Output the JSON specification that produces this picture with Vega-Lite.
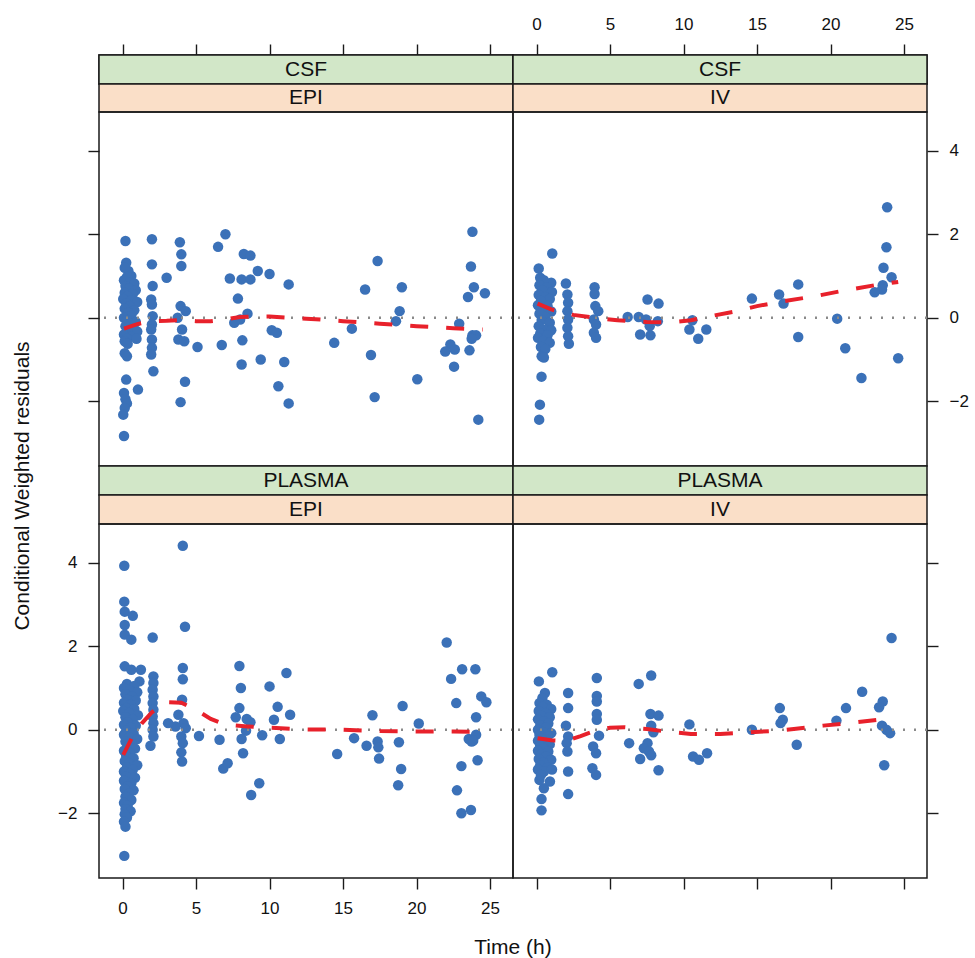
{
  "$schema": "https://vega.github.io/schema/vega-lite/v6.json",
  "padding": {"left": 11, "top": 14, "right": 2, "bottom": 4},
  "background": "white",
  "config": {
    "font": "Liberation Sans",
    "view": {"stroke": "#1a1a1a", "strokeWidth": 1.5},
    "axis": {"grid": false, "domain": false, "tickColor": "#1a1a1a", "tickWidth": 1.4, "tickSize": 11, "labelFontSize": 17, "labelColor": "#111111", "labelPadding": 11, "labelFont": "Liberation Sans"},
    "title": {"font": "Liberation Sans", "fontSize": 21, "fontWeight": "normal", "color": "#111111"}
  },
  "datasets": {
    "tl": [
      {"t":0.2,"r":1.84},{"t":0.25,"r":1.32},{"t":0.4,"r":1.12},{"t":0.15,"r":1.2},{"t":0.6,"r":1.0},{"t":0.3,"r":0.98},{"t":0.1,"r":0.9},{"t":0.5,"r":0.85},{"t":0.8,"r":0.82},{"t":0.2,"r":0.76},{"t":0.45,"r":0.7},{"t":0.9,"r":0.66},{"t":0.15,"r":0.6},{"t":0.7,"r":0.57},{"t":0.35,"r":0.52},{"t":0.05,"r":0.45},{"t":0.6,"r":0.42},{"t":1.0,"r":0.38},{"t":0.25,"r":0.35},{"t":0.5,"r":0.28},{"t":0.15,"r":0.22},{"t":0.8,"r":0.18},{"t":0.4,"r":0.12},{"t":0.6,"r":0.05},{"t":0.1,"r":0.0},{"t":0.3,"r":-0.05},{"t":0.9,"r":-0.1},{"t":0.55,"r":-0.14},{"t":0.2,"r":-0.2},{"t":0.75,"r":-0.25},{"t":0.4,"r":-0.3},{"t":1.0,"r":-0.33},{"t":0.1,"r":-0.4},{"t":0.6,"r":-0.45},{"t":0.3,"r":-0.5},{"t":0.15,"r":-0.56},{"t":0.95,"r":-0.5},{"t":0.35,"r":-0.62},{"t":0.15,"r":-0.85},{"t":0.3,"r":-0.92},{"t":0.25,"r":-1.48},{"t":1.05,"r":-1.72},{"t":0.1,"r":-1.8},{"t":0.2,"r":-1.95},{"t":0.3,"r":-2.05},{"t":0.15,"r":-2.16},{"t":0.05,"r":-2.32},{"t":0.1,"r":-2.83},
      {"t":2.0,"r":1.88},{"t":2.0,"r":1.28},{"t":2.05,"r":0.76},{"t":1.95,"r":0.44},{"t":2.0,"r":0.32},{"t":2.05,"r":0.04},{"t":2.0,"r":-0.16},{"t":1.95,"r":-0.28},{"t":2.0,"r":-0.52},{"t":2.0,"r":-0.72},{"t":1.95,"r":-0.88},{"t":2.1,"r":-1.28},
      {"t":3.9,"r":1.81},{"t":4.0,"r":1.52},{"t":4.0,"r":1.24},{"t":3.0,"r":0.96},{"t":3.95,"r":0.28},{"t":4.3,"r":0.16},{"t":3.75,"r":0.0},{"t":4.05,"r":-0.28},{"t":3.8,"r":-0.52},{"t":4.2,"r":-0.56},{"t":4.25,"r":-1.53},{"t":3.95,"r":-2.02},{"t":5.1,"r":-0.7},
      {"t":7.0,"r":2.0},{"t":6.5,"r":1.7},{"t":8.25,"r":1.53},{"t":8.7,"r":1.49},{"t":7.3,"r":0.94},{"t":8.1,"r":0.92},{"t":8.7,"r":0.92},{"t":9.2,"r":1.12},{"t":10.0,"r":1.05},{"t":11.3,"r":0.8},{"t":7.85,"r":0.46},{"t":8.5,"r":0.1},{"t":8.0,"r":-0.04},{"t":7.6,"r":-0.12},{"t":10.15,"r":-0.3},{"t":10.5,"r":-0.36},{"t":6.75,"r":-0.65},{"t":8.15,"r":-0.54},{"t":9.4,"r":-1.0},{"t":8.1,"r":-1.12},{"t":11.0,"r":-1.06},{"t":10.6,"r":-1.64},{"t":11.3,"r":-2.05},{"t":14.4,"r":-0.6},{"t":15.6,"r":-0.26},{"t":16.5,"r":0.68},{"t":17.35,"r":1.36},{"t":16.9,"r":-0.89},{"t":17.15,"r":-1.9},{"t":19.0,"r":0.73},{"t":18.85,"r":0.16},{"t":18.6,"r":-0.08},{"t":20.05,"r":-1.47},{"t":23.8,"r":2.06},{"t":23.7,"r":1.23},{"t":23.9,"r":0.73},{"t":23.5,"r":0.5},{"t":24.65,"r":0.59},{"t":22.9,"r":-0.14},{"t":23.8,"r":-0.42},{"t":24.05,"r":-0.42},{"t":23.75,"r":-0.5},{"t":22.3,"r":-0.64},{"t":21.95,"r":-0.81},{"t":22.6,"r":-0.76},{"t":23.6,"r":-0.78},{"t":22.55,"r":-1.17},{"t":24.2,"r":-2.44}
    ],
    "tr": [
      {"t":1.07,"r":1.54},{"t":0.15,"r":1.18},{"t":0.25,"r":0.96},{"t":1.0,"r":0.84},{"t":0.5,"r":0.9},{"t":0.2,"r":0.78},{"t":0.7,"r":0.72},{"t":0.4,"r":0.66},{"t":1.05,"r":0.62},{"t":0.15,"r":0.55},{"t":0.6,"r":0.5},{"t":0.9,"r":0.45},{"t":0.3,"r":0.4},{"t":0.1,"r":0.3},{"t":0.75,"r":0.28},{"t":0.45,"r":0.2},{"t":1.0,"r":0.15},{"t":0.2,"r":0.1},{"t":0.6,"r":0.02},{"t":0.35,"r":-0.05},{"t":0.9,"r":-0.12},{"t":0.15,"r":-0.2},{"t":0.5,"r":-0.28},{"t":1.0,"r":-0.3},{"t":0.25,"r":-0.38},{"t":0.75,"r":-0.42},{"t":0.1,"r":-0.48},{"t":0.45,"r":-0.55},{"t":0.9,"r":-0.6},{"t":0.3,"r":-0.7},{"t":0.6,"r":-0.75},{"t":0.35,"r":-0.92},{"t":0.5,"r":-0.95},{"t":0.34,"r":-1.41},{"t":0.23,"r":-2.08},{"t":0.18,"r":-2.44},
      {"t":2.0,"r":0.82},{"t":2.1,"r":0.56},{"t":2.15,"r":0.36},{"t":2.1,"r":0.16},{"t":2.15,"r":-0.04},{"t":2.1,"r":-0.24},{"t":2.15,"r":-0.44},{"t":2.2,"r":-0.62},
      {"t":3.95,"r":0.73},{"t":3.95,"r":0.57},{"t":4.0,"r":0.28},{"t":4.2,"r":0.16},{"t":3.9,"r":-0.04},{"t":4.05,"r":-0.16},{"t":3.9,"r":-0.36},{"t":4.05,"r":-0.48},
      {"t":6.2,"r":0.02},{"t":6.95,"r":0.02},{"t":7.55,"r":0.44},{"t":8.3,"r":0.34},{"t":8.25,"r":-0.08},{"t":7.7,"r":-0.2},{"t":7.05,"r":-0.4},{"t":7.75,"r":-0.42},{"t":7.45,"r":-0.04},{"t":10.6,"r":-0.06},{"t":10.4,"r":-0.28},{"t":11.0,"r":-0.5},{"t":11.55,"r":-0.28},{"t":14.65,"r":0.46},{"t":16.5,"r":0.56},{"t":16.8,"r":0.34},{"t":17.8,"r":0.8},{"t":17.8,"r":-0.46},{"t":20.45,"r":-0.02},{"t":21.0,"r":-0.73},{"t":22.1,"r":-1.44},{"t":23.85,"r":2.65},{"t":23.8,"r":1.69},{"t":23.6,"r":1.2},{"t":24.15,"r":0.97},{"t":23.55,"r":0.78},{"t":23.5,"r":0.68},{"t":23.0,"r":0.61},{"t":24.6,"r":-0.97}
    ],
    "bl": [
      {"t":4.1,"r":4.41},{"t":0.12,"r":3.93},{"t":0.12,"r":3.07},{"t":0.15,"r":2.83},{"t":0.7,"r":2.73},{"t":0.15,"r":2.51},{"t":0.15,"r":2.28},{"t":0.6,"r":2.16},{"t":2.05,"r":2.21},{"t":4.25,"r":2.47},{"t":0.15,"r":1.52},{"t":0.6,"r":1.44},{"t":1.25,"r":1.44},{"t":1.15,"r":1.16},{"t":4.1,"r":1.48},{"t":4.1,"r":1.21},
      {"t":2.1,"r":1.28},{"t":2.1,"r":1.12},{"t":2.05,"r":0.96},{"t":2.1,"r":0.8},{"t":2.05,"r":0.64},{"t":2.1,"r":0.48},{"t":2.05,"r":0.32},{"t":2.1,"r":0.16},{"t":2.05,"r":0.0},{"t":2.1,"r":-0.16},{"t":1.9,"r":-0.38},
      {"t":4.05,"r":0.72},{"t":3.8,"r":0.36},{"t":4.15,"r":0.16},{"t":4.3,"r":0.04},{"t":3.6,"r":0.08},{"t":4.0,"r":-0.16},{"t":4.1,"r":-0.32},{"t":4.0,"r":-0.54},{"t":4.05,"r":-0.76},{"t":3.1,"r":0.16},{"t":5.2,"r":-0.15},
      {"t":0.3,"r":1.1},{"t":0.8,"r":1.05},{"t":0.1,"r":1.0},{"t":0.5,"r":0.95},{"t":1.0,"r":0.9},{"t":0.2,"r":0.85},{"t":0.65,"r":0.8},{"t":0.35,"r":0.72},{"t":0.9,"r":0.7},{"t":0.1,"r":0.65},{"t":0.55,"r":0.6},{"t":0.25,"r":0.52},{"t":0.8,"r":0.5},{"t":0.05,"r":0.45},{"t":0.45,"r":0.4},{"t":1.05,"r":0.35},{"t":0.2,"r":0.3},{"t":0.7,"r":0.25},{"t":0.35,"r":0.18},{"t":0.1,"r":0.12},{"t":0.9,"r":0.1},{"t":0.55,"r":0.05},{"t":0.25,"r":-0.02},{"t":0.75,"r":-0.08},{"t":0.1,"r":-0.12},{"t":0.45,"r":-0.18},{"t":1.0,"r":-0.22},{"t":0.2,"r":-0.28},{"t":0.6,"r":-0.32},{"t":0.35,"r":-0.4},{"t":0.85,"r":-0.45},{"t":0.1,"r":-0.5},{"t":0.5,"r":-0.55},{"t":0.25,"r":-0.62},{"t":0.75,"r":-0.68},{"t":0.15,"r":-0.75},{"t":0.45,"r":-0.8},{"t":1.0,"r":-0.85},{"t":0.3,"r":-0.9},{"t":0.7,"r":-0.95},{"t":0.1,"r":-1.0},{"t":0.5,"r":-1.05},{"t":0.25,"r":-1.12},{"t":0.85,"r":-1.15},{"t":0.1,"r":-1.22},{"t":0.6,"r":-1.28},{"t":0.35,"r":-1.35},{"t":0.15,"r":-1.42},{"t":0.75,"r":-1.45},{"t":0.45,"r":-1.52},{"t":0.2,"r":-1.6},{"t":0.6,"r":-1.68},{"t":0.1,"r":-1.75},{"t":0.35,"r":-1.82},{"t":0.2,"r":-1.9},{"t":0.55,"r":-1.95},{"t":0.15,"r":-2.02},{"t":0.3,"r":-2.1},{"t":0.1,"r":-2.2},{"t":0.2,"r":-2.32},{"t":0.12,"r":-3.02},
      {"t":7.95,"r":1.53},{"t":8.05,"r":1.0},{"t":7.95,"r":0.52},{"t":7.7,"r":0.3},{"t":8.45,"r":0.26},{"t":8.7,"r":0.18},{"t":8.4,"r":-0.02},{"t":8.1,"r":-0.22},{"t":8.2,"r":-0.56},{"t":6.6,"r":-0.24},{"t":6.85,"r":-0.93},{"t":7.15,"r":-0.8},{"t":8.75,"r":-1.56},{"t":9.3,"r":-1.28},{"t":9.5,"r":-0.13},{"t":10.0,"r":1.04},{"t":10.55,"r":0.55},{"t":10.3,"r":0.24},{"t":10.7,"r":-0.22},{"t":11.15,"r":1.36},{"t":11.4,"r":0.36},{"t":14.6,"r":-0.58},{"t":15.75,"r":-0.2},{"t":16.6,"r":-0.38},{"t":17.0,"r":0.35},{"t":17.35,"r":-0.28},{"t":17.4,"r":-0.42},{"t":17.45,"r":-0.69},{"t":18.8,"r":-0.3},{"t":19.05,"r":0.57},{"t":18.95,"r":-0.94},{"t":18.75,"r":-1.33},{"t":20.15,"r":0.15},{"t":22.05,"r":2.09},{"t":22.35,"r":1.22},{"t":23.1,"r":1.45},{"t":24.0,"r":1.45},{"t":22.7,"r":0.64},{"t":24.4,"r":0.8},{"t":24.75,"r":0.66},{"t":24.05,"r":0.3},{"t":23.55,"r":-0.22},{"t":23.75,"r":-0.28},{"t":24.05,"r":-0.12},{"t":23.85,"r":-0.26},{"t":23.05,"r":-0.87},{"t":24.15,"r":-0.73},{"t":22.75,"r":-1.45},{"t":23.05,"r":-2.0},{"t":23.7,"r":-1.92}
    ],
    "br": [
      {"t":1.07,"r":1.38},{"t":0.16,"r":1.16},{"t":0.57,"r":0.88},{"t":0.4,"r":0.76},{"t":0.5,"r":-1.4},{"t":0.34,"r":-1.66},{"t":0.34,"r":-1.93},{"t":0.91,"r":-1.24},{"t":0.2,"r":-1.2},
      {"t":0.2,"r":0.64},{"t":0.7,"r":0.6},{"t":0.4,"r":0.55},{"t":1.0,"r":0.5},{"t":0.15,"r":0.45},{"t":0.6,"r":0.4},{"t":0.3,"r":0.35},{"t":0.9,"r":0.3},{"t":0.1,"r":0.25},{"t":0.5,"r":0.2},{"t":0.8,"r":0.15},{"t":0.25,"r":0.1},{"t":0.65,"r":0.05},{"t":0.1,"r":0.0},{"t":0.45,"r":-0.05},{"t":1.0,"r":-0.08},{"t":0.2,"r":-0.12},{"t":0.75,"r":-0.16},{"t":0.35,"r":-0.2},{"t":0.1,"r":-0.26},{"t":0.6,"r":-0.3},{"t":0.9,"r":-0.35},{"t":0.25,"r":-0.38},{"t":0.5,"r":-0.44},{"t":0.1,"r":-0.5},{"t":0.8,"r":-0.52},{"t":0.35,"r":-0.58},{"t":0.65,"r":-0.64},{"t":0.15,"r":-0.7},{"t":1.0,"r":-0.72},{"t":0.45,"r":-0.78},{"t":0.25,"r":-0.85},{"t":0.75,"r":-0.9},{"t":0.1,"r":-0.95},{"t":0.5,"r":-1.0},{"t":1.05,"r":-0.95},{"t":0.3,"r":-1.08},
      {"t":2.15,"r":0.88},{"t":2.15,"r":0.52},{"t":2.0,"r":0.1},{"t":2.15,"r":-0.16},{"t":2.05,"r":-0.32},{"t":2.1,"r":-0.52},{"t":2.15,"r":-1.0},{"t":2.15,"r":-1.54},
      {"t":4.1,"r":1.24},{"t":4.1,"r":0.81},{"t":4.1,"r":0.68},{"t":4.1,"r":0.38},{"t":4.1,"r":0.24},{"t":4.25,"r":-0.14},{"t":3.85,"r":-0.4},{"t":4.05,"r":-0.56},{"t":3.8,"r":-0.92},{"t":4.05,"r":-1.08},
      {"t":6.3,"r":-0.32},{"t":6.95,"r":1.1},{"t":7.8,"r":1.3},{"t":7.75,"r":0.38},{"t":8.3,"r":0.34},{"t":7.8,"r":0.1},{"t":7.95,"r":-0.06},{"t":7.55,"r":-0.32},{"t":7.3,"r":-0.44},{"t":7.65,"r":-0.52},{"t":7.8,"r":-0.61},{"t":7.05,"r":-0.7},{"t":8.3,"r":-0.97},{"t":10.4,"r":0.13},{"t":10.65,"r":-0.64},{"t":11.05,"r":-0.72},{"t":11.6,"r":-0.56},{"t":14.65,"r":0.0},{"t":16.55,"r":0.52},{"t":16.75,"r":0.24},{"t":16.6,"r":0.16},{"t":17.7,"r":-0.36},{"t":20.4,"r":0.22},{"t":21.05,"r":0.52},{"t":22.15,"r":0.91},{"t":24.15,"r":2.2},{"t":23.55,"r":0.68},{"t":23.3,"r":0.54},{"t":23.5,"r":0.1},{"t":23.8,"r":0.0},{"t":24.05,"r":-0.08},{"t":23.65,"r":-0.85}
    ],
    "tlf": [{"t":0.1,"r":-0.26},{"t":1,"r":-0.15},{"t":2,"r":-0.08},{"t":3,"r":-0.07},{"t":4,"r":-0.05},{"t":5,"r":-0.08},{"t":6,"r":-0.08},{"t":7,"r":-0.04},{"t":8,"r":0.02},{"t":10,"r":0.03},{"t":12.5,"r":-0.02},{"t":15,"r":-0.08},{"t":17.5,"r":-0.14},{"t":20,"r":-0.2},{"t":22.5,"r":-0.25},{"t":24.5,"r":-0.28}],
    "trf": [{"t":0.07,"r":0.34},{"t":1,"r":0.2},{"t":2.5,"r":0.07},{"t":4,"r":0.0},{"t":5.5,"r":-0.06},{"t":7.5,"r":-0.1},{"t":9,"r":-0.11},{"t":10.5,"r":-0.06},{"t":12,"r":0.05},{"t":13.5,"r":0.15},{"t":15,"r":0.28},{"t":17,"r":0.41},{"t":19,"r":0.52},{"t":21,"r":0.66},{"t":23,"r":0.78},{"t":24.6,"r":0.86}],
    "blf": [{"t":0.05,"r":-0.6},{"t":0.7,"r":-0.15},{"t":1.3,"r":0.15},{"t":2,"r":0.42},{"t":3,"r":0.66},{"t":4,"r":0.65},{"t":5,"r":0.48},{"t":6,"r":0.26},{"t":7,"r":0.12},{"t":8.5,"r":0.08},{"t":10,"r":0.05},{"t":12.5,"r":0.01},{"t":15,"r":0.0},{"t":17.5,"r":-0.03},{"t":20,"r":-0.04},{"t":22.5,"r":-0.04},{"t":24.8,"r":-0.05}],
    "brf": [{"t":0.07,"r":-0.2},{"t":1,"r":-0.25},{"t":2,"r":-0.27},{"t":3,"r":-0.15},{"t":4,"r":-0.02},{"t":5,"r":0.05},{"t":6,"r":0.06},{"t":7.5,"r":0.02},{"t":9,"r":-0.05},{"t":10.5,"r":-0.1},{"t":12.5,"r":-0.1},{"t":14.5,"r":-0.06},{"t":16,"r":-0.03},{"t":17.5,"r":0.02},{"t":19.5,"r":0.1},{"t":21.5,"r":0.17},{"t":23.5,"r":0.25}]
  },
  "title": {"text": "Conditional Weighted residuals", "orient": "left", "anchor": "middle", "offset": 24},
  "vconcat": [
    {
      "title": {"text": "Time (h)", "orient": "bottom", "anchor": "middle", "offset": 20},
      "columns": 2,
      "spacing": 0,
      "bounds": "flush",
      "align": "each",
      "concat": [
        {"width": 414, "height": 29, "data": {"values": [{"lab": "CSF"}]},
         "layer": [
          {"mark": {"type": "rect", "fill": "#D2E7C8", "stroke": "#1a1a1a", "strokeWidth": 1.5}, "encoding": {}},
          {"mark": {"type": "text", "fontSize": 21, "color": "#111111", "font": "Liberation Sans"}, "encoding": {"text": {"field": "lab"}}},
          {"mark": {"type": "point", "opacity": 0}, "encoding": {"x": {"datum": 0, "type": "quantitative", "scale": {"domain": [-1.6, 26.56], "nice": false, "zero": false}, "axis": {"orient": "top", "values": [0,5,10,15,20,25], "labels": false, "title": null}}}}
         ]},
        {"width": 414, "height": 29, "data": {"values": [{"lab": "CSF"}]},
         "layer": [
          {"mark": {"type": "rect", "fill": "#D2E7C8", "stroke": "#1a1a1a", "strokeWidth": 1.5}, "encoding": {}},
          {"mark": {"type": "text", "fontSize": 21, "color": "#111111", "font": "Liberation Sans"}, "encoding": {"text": {"field": "lab"}}},
          {"mark": {"type": "point", "opacity": 0}, "encoding": {"x": {"datum": 0, "type": "quantitative", "scale": {"domain": [-1.6, 26.56], "nice": false, "zero": false}, "axis": {"orient": "top", "values": [0,5,10,15,20,25], "title": null}}}}
         ]},
        {"width": 414, "height": 28, "data": {"values": [{"lab": "EPI"}]},
         "layer": [
          {"mark": {"type": "rect", "fill": "#FADFC8", "stroke": "#1a1a1a", "strokeWidth": 1.5}, "encoding": {}},
          {"mark": {"type": "text", "fontSize": 21, "color": "#111111", "font": "Liberation Sans"}, "encoding": {"text": {"field": "lab"}}}
         ]},
        {"width": 414, "height": 28, "data": {"values": [{"lab": "IV"}]},
         "layer": [
          {"mark": {"type": "rect", "fill": "#FADFC8", "stroke": "#1a1a1a", "strokeWidth": 1.5}, "encoding": {}},
          {"mark": {"type": "text", "fontSize": 21, "color": "#111111", "font": "Liberation Sans"}, "encoding": {"text": {"field": "lab"}}}
         ]},
        {"width": 414, "height": 354,
         "layer": [
          {"data": {"name": "tl"}, "mark": {"type": "circle", "size": 110, "color": "#3B71B8", "opacity": 1},
           "encoding": {"x": {"field": "t", "type": "quantitative", "scale": {"domain": [-1.6, 26.56], "nice": false, "zero": false}, "axis": null},
                        "y": {"field": "r", "type": "quantitative", "scale": {"domain": [-3.55, 4.93], "nice": false, "zero": false}, "axis": {"orient": "left", "values": [-2,0,2,4], "labels": false, "title": null}}}},
          {"data": {"values": [{}]}, "mark": {"type": "rule", "color": "#8a8a8a", "strokeDash": [2, 9], "strokeWidth": 2.5},
           "encoding": {"y": {"datum": 0, "type": "quantitative", "axis": {"orient": "left", "values": [-2,0,2,4], "labels": false, "title": null}}}},
          {"data": {"name": "tlf"}, "mark": {"type": "line", "color": "#E8212B", "strokeWidth": 4, "strokeDash": [18, 18]},
           "encoding": {"x": {"field": "t", "type": "quantitative", "axis": null},
                        "y": {"field": "r", "type": "quantitative", "axis": {"orient": "left", "values": [-2,0,2,4], "labels": false, "title": null}}}}
         ]},
        {"width": 414, "height": 354,
         "layer": [
          {"data": {"name": "tr"}, "mark": {"type": "circle", "size": 110, "color": "#3B71B8", "opacity": 1},
           "encoding": {"x": {"field": "t", "type": "quantitative", "scale": {"domain": [-1.6, 26.56], "nice": false, "zero": false}, "axis": null},
                        "y": {"field": "r", "type": "quantitative", "scale": {"domain": [-3.55, 4.93], "nice": false, "zero": false}, "axis": {"orient": "right", "values": [-2,0,2,4], "title": null}}}},
          {"data": {"values": [{}]}, "mark": {"type": "rule", "color": "#8a8a8a", "strokeDash": [2, 9], "strokeWidth": 2.5},
           "encoding": {"y": {"datum": 0, "type": "quantitative", "axis": {"orient": "right", "values": [-2,0,2,4], "title": null}}}},
          {"data": {"name": "trf"}, "mark": {"type": "line", "color": "#E8212B", "strokeWidth": 4, "strokeDash": [18, 18]},
           "encoding": {"x": {"field": "t", "type": "quantitative", "axis": null},
                        "y": {"field": "r", "type": "quantitative", "axis": {"orient": "right", "values": [-2,0,2,4], "title": null}}}}
         ]},
        {"width": 414, "height": 29, "data": {"values": [{"lab": "PLASMA"}]},
         "layer": [
          {"mark": {"type": "rect", "fill": "#D2E7C8", "stroke": "#1a1a1a", "strokeWidth": 1.5}, "encoding": {}},
          {"mark": {"type": "text", "fontSize": 21, "color": "#111111", "font": "Liberation Sans"}, "encoding": {"text": {"field": "lab"}}}
         ]},
        {"width": 414, "height": 29, "data": {"values": [{"lab": "PLASMA"}]},
         "layer": [
          {"mark": {"type": "rect", "fill": "#D2E7C8", "stroke": "#1a1a1a", "strokeWidth": 1.5}, "encoding": {}},
          {"mark": {"type": "text", "fontSize": 21, "color": "#111111", "font": "Liberation Sans"}, "encoding": {"text": {"field": "lab"}}}
         ]},
        {"width": 414, "height": 29, "data": {"values": [{"lab": "EPI"}]},
         "layer": [
          {"mark": {"type": "rect", "fill": "#FADFC8", "stroke": "#1a1a1a", "strokeWidth": 1.5}, "encoding": {}},
          {"mark": {"type": "text", "fontSize": 21, "color": "#111111", "font": "Liberation Sans"}, "encoding": {"text": {"field": "lab"}}}
         ]},
        {"width": 414, "height": 29, "data": {"values": [{"lab": "IV"}]},
         "layer": [
          {"mark": {"type": "rect", "fill": "#FADFC8", "stroke": "#1a1a1a", "strokeWidth": 1.5}, "encoding": {}},
          {"mark": {"type": "text", "fontSize": 21, "color": "#111111", "font": "Liberation Sans"}, "encoding": {"text": {"field": "lab"}}}
         ]},
        {"width": 414, "height": 354,
         "layer": [
          {"data": {"name": "bl"}, "mark": {"type": "circle", "size": 110, "color": "#3B71B8", "opacity": 1},
           "encoding": {"x": {"field": "t", "type": "quantitative", "scale": {"domain": [-1.6, 26.56], "nice": false, "zero": false}, "axis": {"orient": "bottom", "values": [0,5,10,15,20,25], "title": null}},
                        "y": {"field": "r", "type": "quantitative", "scale": {"domain": [-3.55, 4.93], "nice": false, "zero": false}, "axis": {"orient": "left", "values": [-2,0,2,4], "title": null}}}},
          {"data": {"values": [{}]}, "mark": {"type": "rule", "color": "#8a8a8a", "strokeDash": [2, 9], "strokeWidth": 2.5},
           "encoding": {"y": {"datum": 0, "type": "quantitative", "axis": {"orient": "left", "values": [-2,0,2,4], "title": null}}}},
          {"data": {"name": "blf"}, "mark": {"type": "line", "color": "#E8212B", "strokeWidth": 4, "strokeDash": [18, 18]},
           "encoding": {"x": {"field": "t", "type": "quantitative", "axis": {"orient": "bottom", "values": [0,5,10,15,20,25], "title": null}},
                        "y": {"field": "r", "type": "quantitative", "axis": {"orient": "left", "values": [-2,0,2,4], "title": null}}}}
         ]},
        {"width": 414, "height": 354,
         "layer": [
          {"data": {"name": "br"}, "mark": {"type": "circle", "size": 110, "color": "#3B71B8", "opacity": 1},
           "encoding": {"x": {"field": "t", "type": "quantitative", "scale": {"domain": [-1.6, 26.56], "nice": false, "zero": false}, "axis": {"orient": "bottom", "values": [0,5,10,15,20,25], "labels": false, "title": null}},
                        "y": {"field": "r", "type": "quantitative", "scale": {"domain": [-3.55, 4.93], "nice": false, "zero": false}, "axis": {"orient": "right", "values": [-2,0,2,4], "labels": false, "title": null}}}},
          {"data": {"values": [{}]}, "mark": {"type": "rule", "color": "#8a8a8a", "strokeDash": [2, 9], "strokeWidth": 2.5},
           "encoding": {"y": {"datum": 0, "type": "quantitative", "axis": {"orient": "right", "values": [-2,0,2,4], "labels": false, "title": null}}}},
          {"data": {"name": "brf"}, "mark": {"type": "line", "color": "#E8212B", "strokeWidth": 4, "strokeDash": [18, 18]},
           "encoding": {"x": {"field": "t", "type": "quantitative", "axis": {"orient": "bottom", "values": [0,5,10,15,20,25], "labels": false, "title": null}},
                        "y": {"field": "r", "type": "quantitative", "axis": {"orient": "right", "values": [-2,0,2,4], "labels": false, "title": null}}}}
         ]}
      ]
    }
  ]
}
